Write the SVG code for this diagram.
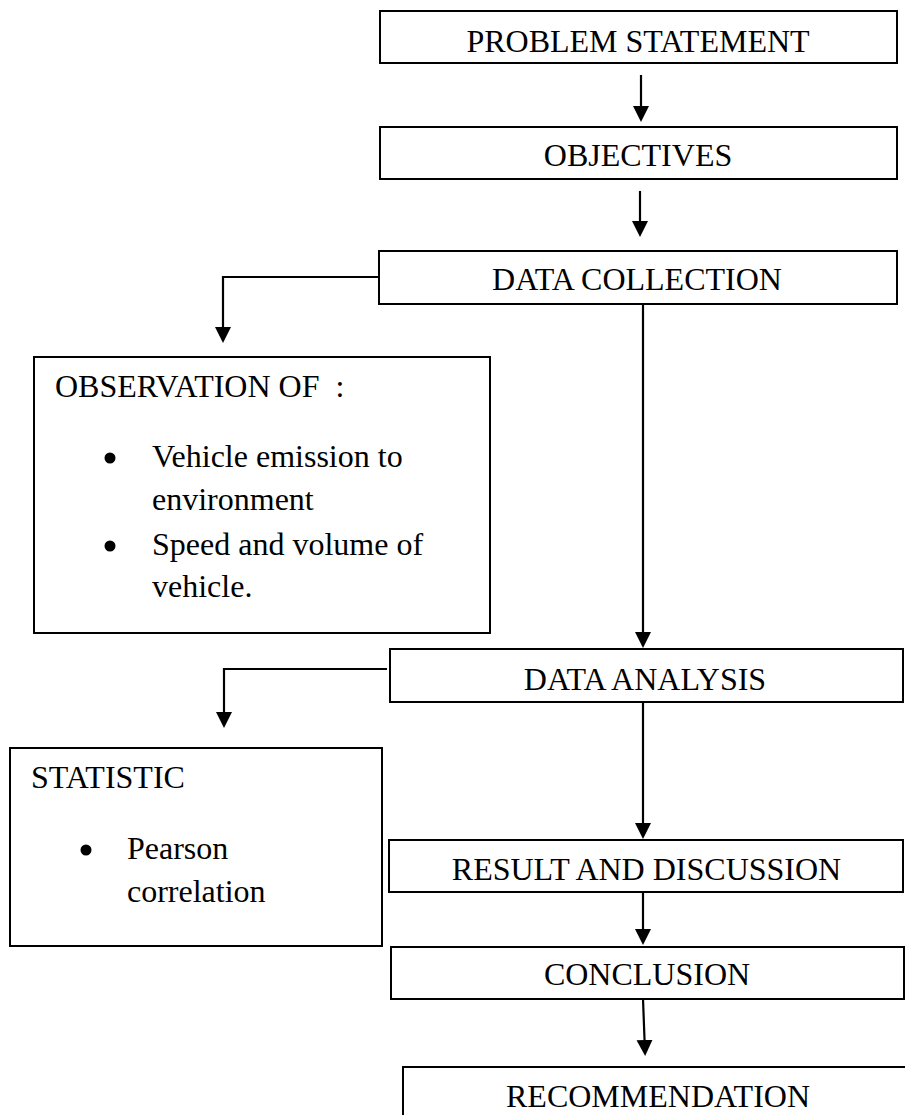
<svg xmlns="http://www.w3.org/2000/svg" width="905" height="1115" viewBox="0 0 905 1115">
<style>
.box{fill:#fff;stroke:#000;stroke-width:2}
.t{font-family:"Liberation Serif","Times New Roman",serif;font-size:32px;fill:#000}
.c{text-anchor:middle}
.con{fill:none;stroke:#000;stroke-width:2.2}
.dot{fill:#000}
</style>
<defs>
<marker id="ah" markerUnits="userSpaceOnUse" markerWidth="17" markerHeight="17" refX="12" refY="8" orient="auto">
<path d="M0,0 L16,8 L0,16 z" fill="#000"/>
</marker>
</defs>
<rect width="905" height="1115" fill="#fff"/>
<g id="connectors">
<line class="con" x1="641" y1="75" x2="641" y2="118" marker-end="url(#ah)"/>
<line class="con" x1="640" y1="191" x2="640" y2="233" marker-end="url(#ah)"/>
<polyline class="con" points="379,277 223,277 223,339" marker-end="url(#ah)"/>
<line class="con" x1="643" y1="304" x2="643" y2="644" marker-end="url(#ah)"/>
<polyline class="con" points="387,669 224,669 224,724" marker-end="url(#ah)"/>
<line class="con" x1="643" y1="702" x2="643" y2="835" marker-end="url(#ah)"/>
<line class="con" x1="643" y1="892" x2="643" y2="941" marker-end="url(#ah)"/>
<line class="con" x1="643" y1="999" x2="645" y2="1052" marker-end="url(#ah)"/>
</g>
<g id="problem-statement">
<rect class="box" x="380" y="11" width="517" height="52"/>
<text class="t c" x="638" y="52">PROBLEM STATEMENT</text>
</g>
<g id="objectives">
<rect class="box" x="380" y="127" width="517" height="52"/>
<text class="t c" x="638" y="166">OBJECTIVES</text>
</g>
<g id="data-collection">
<rect class="box" x="379" y="251" width="518" height="53"/>
<text class="t c" x="637" y="290">DATA COLLECTION</text>
</g>
<g id="observation">
<rect class="box" x="34" y="357" width="456" height="276"/>
<text class="t" x="55" y="397" xml:space="preserve">OBSERVATION OF  :</text>
<circle class="dot" cx="110" cy="458" r="5.5"/>
<text class="t" x="152" y="467">Vehicle emission to</text>
<text class="t" x="152" y="510">environment</text>
<circle class="dot" cx="110" cy="546" r="5.5"/>
<text class="t" x="152" y="555">Speed and volume of</text>
<text class="t" x="152" y="597">vehicle.</text>
</g>
<g id="data-analysis">
<rect class="box" x="390" y="649" width="513" height="53"/>
<text class="t c" x="645" y="690">DATA ANALYSIS</text>
</g>
<g id="statistic">
<rect class="box" x="10" y="748" width="372" height="198"/>
<text class="t" x="31" y="788">STATISTIC</text>
<circle class="dot" cx="86" cy="850" r="5.5"/>
<text class="t" x="127" y="859">Pearson</text>
<text class="t" x="127" y="902">correlation</text>
</g>
<g id="result-discussion">
<rect class="box" x="389" y="840" width="514" height="52"/>
<text class="t c" x="646.5" y="880">RESULT AND DISCUSSION</text>
</g>
<g id="conclusion">
<rect class="box" x="391" y="947" width="513" height="52"/>
<text class="t c" x="647" y="985">CONCLUSION</text>
</g>
<g id="recommendation">
<rect class="box" x="403" y="1067" width="510" height="60"/>
<text class="t c" x="658" y="1107">RECOMMENDATION</text>
</g>
</svg>
